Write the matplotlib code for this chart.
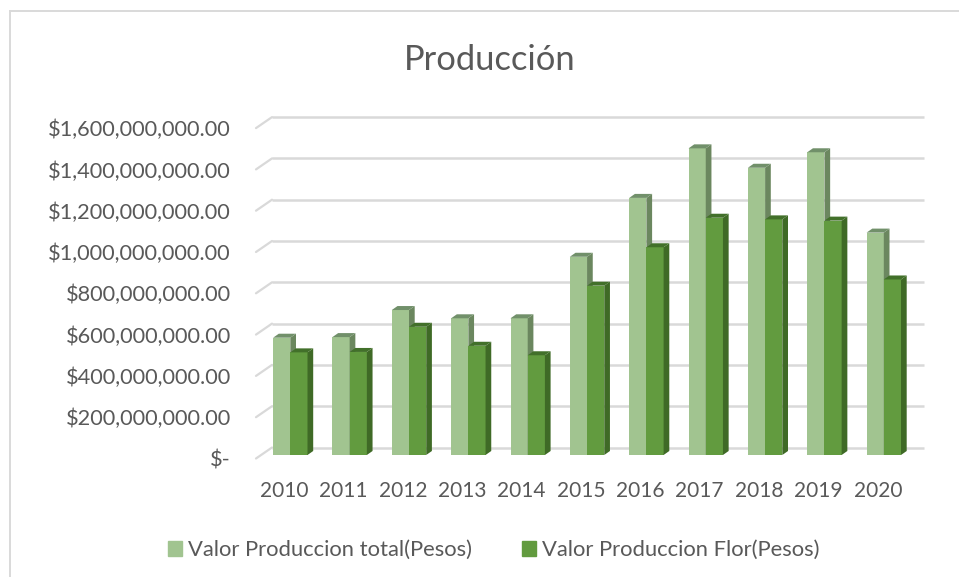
import matplotlib.pyplot as plt
from matplotlib.patches import Patch
from matplotlib.lines import Line2D
from matplotlib.transforms import ScaledTranslation

YEARS = ['2010', '2011', '2012', '2013', '2014', '2015', '2016', '2017', '2018', '2019', '2020']
VALOR_TOTAL = [568e6, 571e6, 702e6, 662e6, 662e6, 960e6, 1245e6, 1485e6, 1391e6, 1466e6, 1077e6]
VALOR_FLOR = [497e6, 499e6, 621e6, 529e6, 483e6, 820e6, 1006e6, 1149e6, 1141e6, 1135e6, 850e6]
Y_TICKS = [0, 200e6, 400e6, 600e6, 800e6, 1000e6, 1200e6, 1400e6, 1600e6]
Y_LABELS = ['$-', '$200,000,000.00', '$400,000,000.00', '$600,000,000.00', '$800,000,000.00',
            '$1,000,000,000.00', '$1,200,000,000.00', '$1,400,000,000.00', '$1,600,000,000.00']

W, H = 959, 577
LEFT, RIGHT, BOTTOM, TOP = 256, 924, 455, 100
X_STEP = 59.35     # px per category
X_FIRST = 290.3    # px of first category centre
Y_SCALE = 200e6 / 41.3  # value per px
BAR_W = 17.2 / X_STEP

TEXT_COLOR = '#595959'
GRID_COLOR = '#d9d9d9'

plt.rcParams['font.family'] = ['Lato', 'DejaVu Sans']
plt.rcParams['text.color'] = TEXT_COLOR


def draw_bars(ax, xs, values, front, side, top):
    # bar front from the library, side and top faces as offset polygons
    dx = 5.7 / X_STEP
    dy = 4 * Y_SCALE
    ax.bar(xs, values, BAR_W, color=front, linewidth=0, zorder=3)
    for x, v in zip(xs, values):
        x1 = x + BAR_W / 2
        x0 = x - BAR_W / 2
        ax.fill([x1, x1 + dx, x1 + dx, x1], [0, dy, v + dy, v],
                color=side, linewidth=0, zorder=3, clip_on=False)
        ax.fill([x0, x0 + dx, x1 + dx, x1], [v, v + dy, v + dy, v],
                color=top, linewidth=0, zorder=3, clip_on=False)


fig = plt.figure(figsize=(W / 100, H / 100), dpi=100)
ax = fig.add_axes([LEFT / W, 1 - BOTTOM / H, (RIGHT - LEFT) / W, (BOTTOM - TOP) / H])
ax.set_xlim((LEFT - X_FIRST) / X_STEP, (RIGHT - X_FIRST) / X_STEP)
ax.set_ylim(0, (BOTTOM - TOP) * Y_SCALE)
for s in ax.spines.values():
    s.set_visible(False)

# gridlines on the back wall, diagonals on the side wall
back_dy = 7.5 * Y_SCALE
front_dy = -3.5 * Y_SCALE
wall_x = (272 - X_FIRST) / X_STEP
for t in Y_TICKS:
    ax.plot([wall_x, (RIGHT - X_FIRST) / X_STEP], [t + back_dy, t + back_dy],
            color=GRID_COLOR, lw=1.8, zorder=1, clip_on=False, solid_capstyle='butt')
    ax.plot([(LEFT - X_FIRST) / X_STEP, wall_x], [t + front_dy, t + back_dy],
            color=GRID_COLOR, lw=1.6, zorder=1, clip_on=False, solid_capstyle='round')

xs = list(range(len(YEARS)))
draw_bars(ax, [x - BAR_W / 2 for x in xs], VALOR_TOTAL, '#a1c490', '#6b875f', '#71906a')
draw_bars(ax, [x + BAR_W / 2 for x in xs], VALOR_FLOR, '#629b3f', '#3f6a26', '#42702a')

ax.set_xticks(xs)
ax.set_xticklabels(YEARS, fontsize=15, color=TEXT_COLOR)
ax.set_yticks(Y_TICKS)
ax.set_yticklabels(Y_LABELS, fontsize=15.7, color=TEXT_COLOR)
ax.tick_params(axis='both', length=0)
ax.tick_params(axis='x', pad=19)
ax.tick_params(axis='y', pad=18)
y_shift = ScaledTranslation(0, -3.5 / 100, fig.dpi_scale_trans)
for lab in ax.get_yticklabels():
    lab.set_transform(lab.get_transform() + y_shift)
x_shift = ScaledTranslation(-6 / 100, 0, fig.dpi_scale_trans)
for lab in ax.get_xticklabels():
    lab.set_transform(lab.get_transform() + x_shift)

fig.text(490 / W, 1 - 60 / H, 'Producción', ha='center', va='center', fontsize=24.8, color=TEXT_COLOR)

# chart area border, only top and left are in the picture
fig.add_artist(Line2D([10 / W, 10 / W], [0, 1 - 10.5 / H], color=GRID_COLOR, lw=1.4))
fig.add_artist(Line2D([10 / W, 1], [1 - 10.5 / H, 1 - 10.5 / H], color=GRID_COLOR, lw=1.4))

handles = [Patch(color='#a1c490'), Patch(color='#629b3f')]
fig.legend(handles, ['Valor Produccion total(Pesos)', 'Valor Produccion Flor(Pesos)'],
           loc='center', bbox_to_anchor=(493.5 / W, 1 - 550 / H), ncols=2, frameon=False,
           fontsize=15.8, handlelength=0.65, handleheight=0.65, handletextpad=0.25,
           columnspacing=2.3)

fig.savefig('out.png', dpi=100, facecolor='white')
